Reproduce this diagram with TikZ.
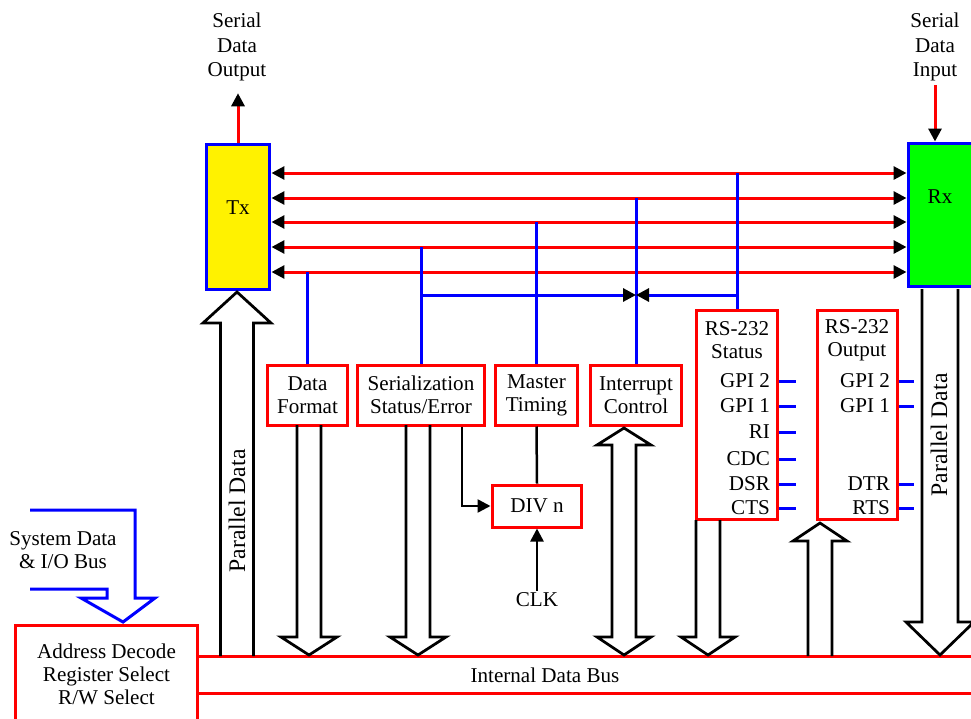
\documentclass[tikz,border=0pt]{standalone}
\usepackage{fontspec}
\setmainfont{Liberation Serif}
\usetikzlibrary{arrows.meta}
\tikzset{
  blk/.style   ={draw=red, line width=0.06cm, fill=white, align=center, inner sep=0pt},
  txbox/.style ={draw=blue, fill=yellow, line width=0.06cm, minimum width=1.28cm, minimum height=2.9cm},
  rxbox/.style ={draw=blue, fill=green, line width=0.06cm, minimum width=1.28cm, minimum height=2.88cm},
  redbus/.style={red, line width=0.06cm},
  ctl/.style   ={blue, line width=0.06cm},
  wire/.style  ={black, line width=0.05cm},
  fat/.style   ={black, line width=0.055cm, line join=miter},
  tip/.style   ={-{Triangle[color=black, length=0.26cm, width=0.26cm]}},
  lbl/.style   ={inner sep=1pt, align=center},
}
\begin{document}
\begin{tikzpicture}[x=0.02cm, y=-0.02cm, font=\fontsize{12}{13}\selectfont]
  \useasboundingbox (0,0) rectangle (971,718);
  % transmitter / receiver
  \node[txbox, label={[yshift=0.18cm]center:Tx}] (Tx) at (238,217) {};
  \node[rxbox, label={[yshift=0.36cm]center:Rx}] (Rx) at (940,215) {};
  \node[lbl, font=\fontsize{12}{14}\selectfont] (sdo) at (237,47) {Serial\\Data\\Output};
  \node[lbl, font=\fontsize{12}{14}\selectfont] (sdi) at (935,47) {Serial\\Data\\Input};
  \draw[redbus, tip, shorten >=0.2cm] (Tx.north) -- (Tx.north |- sdo.south);
  \draw[redbus, tip] (sdi.south) ++(0,2) -- (sdi.south |- Rx.north);
  \foreach \y in {173,198,222,247,272}
    \draw[redbus, {Triangle[color=black, length=0.26cm, width=0.26cm]}-{Triangle[color=black, length=0.26cm, width=0.26cm]}]
      (Tx.east |- 0,\y) -- (Rx.west |- 0,\y);
  % control blocks
  \node[blk, minimum width=1.62cm, minimum height=1.2cm] (fmt) at (307.5,395) {Data\\Format};
  \node[blk, minimum width=2.56cm, minimum height=1.2cm] (ser) at (421,395) {Serialization\\Status/Error};
  \node[blk, minimum width=1.66cm, minimum height=1.2cm] (mt)  at (536.5,395) {Master\\Timing};
  \node[blk, minimum width=1.84cm, minimum height=1.2cm] (irq) at (636,395) {Interrupt\\Control};
  \node[blk, minimum width=1.8cm, minimum height=0.84cm] (div) at (537,506) {DIV n};
  \node[lbl] (clk) at (537,600) {CLK};
  \node[blk, minimum width=1.64cm, minimum height=4.2cm] (st)  at (737,415) {};
  \node[blk, minimum width=1.62cm, minimum height=4.2cm] (out) at (857.5,415) {};
  \node[lbl] at (737,340) {RS-232\\Status};
  \node[lbl] at (857,340) {RS-232\\Output};
  \foreach \y/\t in {381/GPI 2,406/GPI 1,432/RI,459/CDC,484/DSR,508/CTS}{
    \node[lbl, anchor=east] at (772,\y) {\t};
    \draw[ctl] (st.east |- 0,\y) -- ++(17,0);
  }
  \foreach \y/\t in {381/GPI 2,406/GPI 1,484/DTR,508/RTS}{
    \node[lbl, anchor=east] at (892,\y) {\t};
    \draw[ctl] (out.east |- 0,\y) -- ++(15,0);
  }
  % taps from the serial lines
  \draw[ctl] (fmt.north) -- (fmt.north |- 0,272);
  \draw[ctl] (ser.north) -- (ser.north |- 0,247);
  \draw[ctl] (mt.north) -- (mt.north |- 0,222);
  \draw[ctl] (irq.north) -- (irq.north |- 0,198);
  \draw[ctl] (st.north) -- (st.north |- 0,173);
  \draw[ctl, tip] (ser.north |- 0,295) -- (irq.north |- 0,295);
  \draw[ctl, tip] (st.north |- 0,295) -- (irq.north |- 0,295);
  % clock path
  \draw[wire] (mt.south) -- (div.north);
  \draw[wire, tip] ([xshift=0.82cm]ser.south) |- (div.west);
  \draw[wire, tip] (clk.north) -- (div.south);
  % host side
  \node[blk, minimum width=3.66cm, minimum height=1.96cm] (addr) at (106.5,674) {};
  \node[lbl] at (106.5,674) {Address Decode\\Register Select\\R/W Select};
  \draw[redbus] (addr.east |- 0,656) -- (975,656);
  \draw[redbus] (addr.east |- 0,693) -- (975,693);
  \node[lbl] (bus) at (545,675) {Internal Data Bus};
  \draw[ctl, line join=miter] (30,510) -- (135,510) -- (135,598) -- (155,598) -- (123,622)
    -- (81,598) -- (107,598) -- (107,589) -- (30,589);
  \node[lbl] (sys) at (63,550) {System Data\\\& I/O Bus};
  % wide data paths
  \foreach \c in {309,418}
    \draw[fat] (\c-12,425) -- (\c-12,637) -- (\c-28,637) -- (\c,655) -- (\c+28,637) -- (\c+12,637) -- (\c+12,425);
  \draw[fat] (696,520) -- (696,637) -- (681,637) -- (708,655) -- (735,637) -- (720,637) -- (720,520);
  \draw[fat] (612,637) -- (597,637) -- (624,655) -- (651,637) -- (636,637) -- (636,445) -- (651,445)
    -- (624,428) -- (597,445) -- (612,445) -- cycle;
  \draw[fat] (808,656) -- (808,541) -- (793,541) -- (820,523) -- (847,541) -- (832,541) -- (832,656);
  \draw[fat] (220.5,656) -- (220.5,323) -- (203,323) -- (237,292) -- (271,323) -- (253.5,323) -- (253.5,656);
  \draw[fat] (922,289) -- (922,622) -- (906,622) -- (940,655) -- (974,622) -- (958,622) -- (958,289);
  \node[lbl, rotate=90, font=\fontsize{13.5}{14}\selectfont] (pdtx) at (237,511) {Parallel Data};
  \node[lbl, rotate=90, font=\fontsize{13.5}{14}\selectfont] (pdrx) at (939,435) {Parallel Data};
\end{tikzpicture}
\end{document}
